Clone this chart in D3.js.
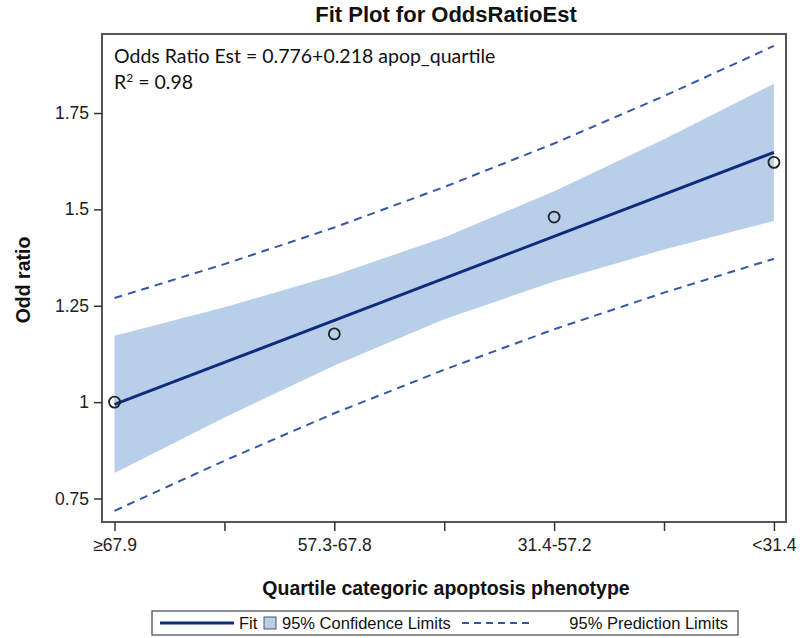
<!DOCTYPE html>
<html><head><meta charset="utf-8">
<script src="https://cdn.jsdelivr.net/npm/d3@7"></script>
<style>body{margin:0;background:#fff}svg{display:block}</style>
</head><body><svg id="c" width="800" height="638"></svg>
<script>
const categories = ["≥67.9", "57.3-67.8", "31.4-57.2", "<31.4"];
const pointX = [1, 2, 3, 4];
const oddsRatio = [1.0, 1.177, 1.48, 1.622];
const bandX = [1, 1.5, 2, 2.5, 3, 3.5, 4];
const fitY = [0.994, 1.103, 1.212, 1.321, 1.430, 1.539, 1.648];
const ciLower = [0.816, 0.960, 1.095, 1.215, 1.313, 1.396, 1.470];
const ciUpper = [1.172, 1.246, 1.329, 1.427, 1.547, 1.682, 1.826];
const piLower = [0.718, 0.848, 0.971, 1.084, 1.189, 1.284, 1.372];
const piUpper = [1.270, 1.358, 1.453, 1.558, 1.671, 1.794, 1.924];
const yTicks = [0.75, 1, 1.25, 1.5, 1.75];
const yTickLabels = ["0.75", "1", "1.25", "1.5", "1.75"];

const svg = d3.select("#c");
const L = 102, R = 786, T = 34, B = 522;
const x = d3.scaleLinear().domain([0.943, 4.055]).range([L, R]);
const y = d3.scaleLinear().domain([0.689, 1.955]).range([B, T]);

const font = "'Liberation Sans', Arial, sans-serif";
// title
svg.append("text").attr("x", 446).attr("y", 22).attr("text-anchor", "middle")
  .attr("font-family", font).attr("font-weight", "bold").attr("font-size", 22).attr("fill", "#111")
  .text("Fit Plot for OddsRatioEst");

svg.append("clipPath").attr("id", "clip").append("rect").attr("x", L).attr("y", T).attr("width", R - L).attr("height", B - T);
const g = svg.append("g").attr("clip-path", "url(#clip)");

const band = bandX.map((v, i) => ({x: v, lo: ciLower[i], hi: ciUpper[i], f: fitY[i], pl: piLower[i], pu: piUpper[i]}));
g.append("path").datum(band)
  .attr("d", d3.area().x(d => x(d.x)).y0(d => y(d.lo)).y1(d => y(d.hi)))
  .attr("fill", "#b9cfe9");
g.append("path").datum(band)
  .attr("d", d3.line().x(d => x(d.x)).y(d => y(d.f)))
  .attr("fill", "none").attr("stroke", "#0e2c7c").attr("stroke-width", 3);
["pl", "pu"].forEach(k => {
  g.append("path").datum(band)
    .attr("d", d3.line().x(d => x(d.x)).y(d => y(d[k])))
    .attr("fill", "none").attr("stroke", "#3557a6").attr("stroke-width", 2).attr("stroke-dasharray", "8,6");
});
svg.append("g").selectAll("circle").data(pointX.map((v, i) => ({x: v, y: oddsRatio[i]}))).join("circle")
  .attr("cx", d => x(d.x)).attr("cy", d => y(d.y)).attr("r", 5.5)
  .attr("fill", "none").attr("stroke", "#222").attr("stroke-width", 1.8);

// frame
svg.append("rect").attr("x", L).attr("y", T).attr("width", R - L).attr("height", B - T)
  .attr("fill", "none").attr("stroke", "#555").attr("stroke-width", 2);

// axes
const yAx = svg.append("g").attr("transform", `translate(${L},0)`)
  .call(d3.axisLeft(y).tickValues(yTicks).tickFormat((d, i) => yTickLabels[i]).tickSize(8).tickPadding(5));
yAx.select(".domain").remove();
yAx.selectAll("line").attr("stroke", "#333").attr("stroke-width", 1.5);
yAx.selectAll("text").attr("font-family", font).attr("font-size", 17.5).attr("fill", "#222");

const xAx = svg.append("g").attr("transform", `translate(0,${B})`)
  .call(d3.axisBottom(x).tickValues([1, 1.5, 2, 2.5, 3, 3.5, 4])
    .tickFormat(d => Number.isInteger(d) ? categories[d - 1] : "").tickSize(9).tickPadding(8));
xAx.select(".domain").remove();
xAx.selectAll("line").attr("stroke", "#333").attr("stroke-width", 1.5);
xAx.selectAll("text").attr("font-family", font).attr("font-size", 17.5).attr("fill", "#222");

// axis titles
svg.append("text").attr("x", 446).attr("y", 595).attr("text-anchor", "middle")
  .attr("font-family", font).attr("font-weight", "bold").attr("font-size", 19.5).attr("fill", "#111")
  .text("Quartile categoric apoptosis phenotype");
svg.append("text").attr("transform", "translate(30,280) rotate(-90)").attr("text-anchor", "middle")
  .attr("font-family", font).attr("font-weight", "bold").attr("font-size", 19.5).attr("fill", "#111")
  .text("Odd ratio");

// annotation
const af = "Lato, 'Open Sans', sans-serif";
svg.append("text").attr("x", 114).attr("y", 63).attr("font-family", af).attr("font-size", 19.5).attr("fill", "#111")
  .text("Odds Ratio Est = 0.776+0.218 apop_quartile");
const r2 = svg.append("text").attr("x", 114).attr("y", 89).attr("font-family", af).attr("font-size", 19.5).attr("fill", "#111");
r2.append("tspan").text("R");
r2.append("tspan").attr("dy", -7).attr("font-size", 12).text("2");
r2.append("tspan").attr("dy", 7).text(" = 0.98");

// legend
const lg = svg.append("g");
lg.append("rect").attr("x", 152).attr("y", 611).attr("width", 586).attr("height", 24)
  .attr("fill", "#fff").attr("stroke", "#444").attr("stroke-width", 1.2);
const ly = 623;
const lf = 16.5;
lg.append("line").attr("x1", 160).attr("x2", 234).attr("y1", ly).attr("y2", ly).attr("stroke", "#0e2c7c").attr("stroke-width", 3);
lg.append("text").attr("x", 239).attr("y", ly + 6).attr("font-family", font).attr("font-size", lf).attr("fill", "#111").text("Fit");
lg.append("rect").attr("x", 264).attr("y", ly - 6).attr("width", 12).attr("height", 12)
  .attr("fill", "#b9cfe9").attr("stroke", "#555").attr("stroke-width", 1);
lg.append("text").attr("x", 282).attr("y", ly + 6).attr("font-family", font).attr("font-size", lf).attr("fill", "#111").text("95% Confidence Limits");
lg.append("line").attr("x1", 462).attr("x2", 534).attr("y1", ly).attr("y2", ly).attr("stroke", "#3557a6").attr("stroke-width", 2).attr("stroke-dasharray", "7,5");
lg.append("text").attr("x", 728).attr("y", ly + 6).attr("text-anchor", "end").attr("font-family", font).attr("font-size", lf).attr("fill", "#111").text("95% Prediction Limits");
</script></body></html>
